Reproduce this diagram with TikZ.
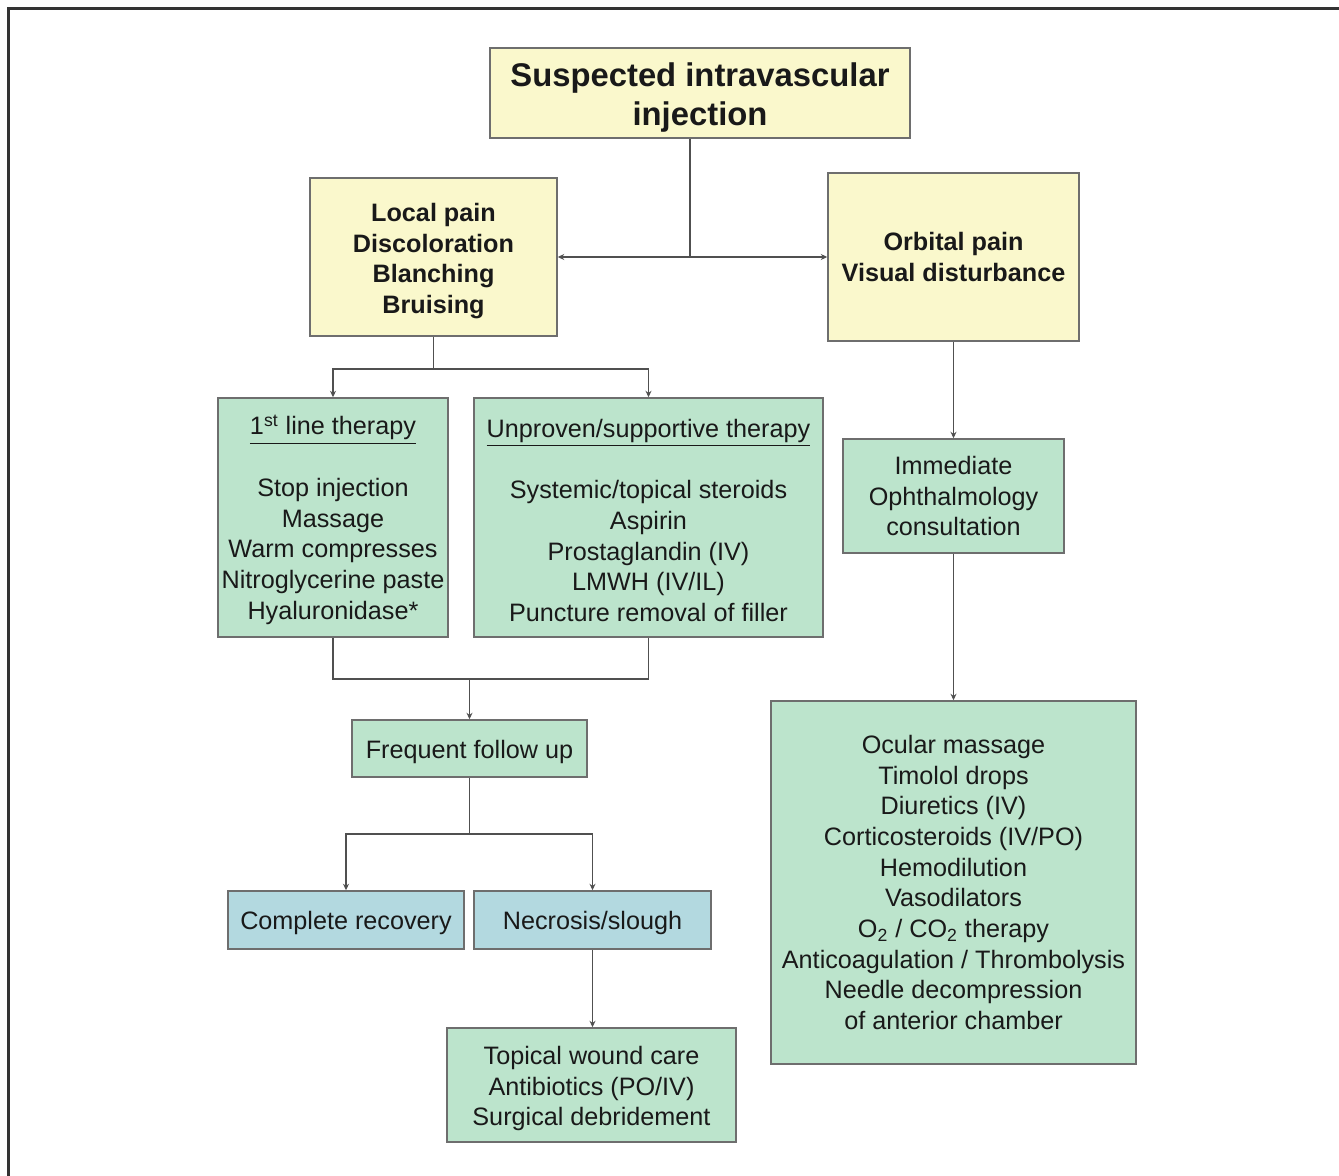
\documentclass[tikz,border=0pt]{standalone}
\usepackage{fontspec}
\setmainfont{Liberation Sans}
\usetikzlibrary{arrows.meta}
\definecolor{byellow}{HTML}{FAF8CC}
\definecolor{bgreen}{HTML}{BCE4CC}
\definecolor{bblue}{HTML}{B3D9E0}
\definecolor{bline}{HTML}{6E6E6E}
\definecolor{cline}{HTML}{505050}
\newcommand{\fstrut}[1]{\rule{0pt}{#1}}
\tikzset{
  box/.style={rectangle, draw=bline, line width=0.8pt, align=center, inner sep=0pt, text=black!90},
  ybox/.style={box, fill=byellow, font=\fontsize{12.6}{15.3}\selectfont\bfseries},
  gbox/.style={box, fill=bgreen, font=\fontsize{12.6}{15.35}\selectfont},
  bbox/.style={box, fill=bblue, font=\fontsize{12.6}{15.35}\selectfont},
  conn/.style={draw=cline, line width=0.7pt},
  arr/.style={conn, -{Stealth[length=3.2pt,width=3pt]}},
}
\begin{document}
\begin{tikzpicture}[x=0.5pt,y=-0.5pt]
\useasboundingbox (0,0) rectangle (1339,1176);
\draw[line width=1.1pt, draw=black!80] (8.5,1176) -- (8.5,8.5) -- (1339,8.5);

\node[box, fill=byellow, font=\fontsize{16.4}{19.5}\selectfont\bfseries,
      minimum width=210pt, minimum height=45pt] (top) at (700,93)
      {\fstrut{16.5pt}Suspected intravascular\\injection};
\node[ybox, minimum width=123.5pt, minimum height=79pt] (ly) at (433.5,257)
      {\fstrut{13.2pt}Local pain\\Discoloration\\Blanching\\Bruising};
\node[ybox, minimum width=125.5pt, minimum height=84pt] (ry) at (953.5,257)
      {Orbital pain\\Visual disturbance};

\node[gbox, minimum width=115pt, minimum height=119.5pt] (g1) at (333,517.5)
      {\fstrut{12.2pt}\underline{1\textsuperscript{st} line therapy}\\[15.35pt]Stop injection\\Massage\\Warm compresses\\Nitroglycerine paste\\Hyaluronidase*};
\node[gbox, minimum width=174.5pt, minimum height=119.5pt] (g2) at (648.5,517.5)
      {\fstrut{12.2pt}\underline{Unproven/supportive therapy}\\[15.35pt]Systemic/topical steroids\\Aspirin\\Prostaglandin (IV)\\LMWH (IV/IL)\\Puncture removal of filler};

\node[gbox, minimum width=117.5pt, minimum height=28.5pt] (ff) at (469.5,748.5)
      {\fstrut{12.2pt}Frequent follow up};
\node[bbox, minimum width=118pt, minimum height=29pt] (cr) at (346,920)
      {\fstrut{12.2pt}Complete recovery};
\node[bbox, minimum width=118.5pt, minimum height=29pt] (ns) at (592.5,920)
      {\fstrut{12.2pt}Necrosis/slough};
\node[gbox, minimum width=144.5pt, minimum height=57pt] (tw) at (591.5,1085)
      {\fstrut{12.8pt}Topical wound care\\Antibiotics (PO/IV)\\Surgical debridement};

\node[gbox, minimum width=110.5pt, minimum height=57pt] (im) at (953.5,496)
      {Immediate\\Ophthalmology\\consultation};
\node[gbox, minimum width=182.5pt, minimum height=181.5pt] (bg) at (953.5,882.5)
      {Ocular massage\\Timolol drops\\Diuretics (IV)\\Corticosteroids (IV/PO)\\Hemodilution\\Vasodilators\\O\textsubscript{2} / CO\textsubscript{2} therapy\\Anticoagulation / Thrombolysis\\Needle decompression\\of anterior chamber};

% connectors
\coordinate (j1) at (690,257);
\draw[conn] (j1 |- top.south) -- (j1);
\draw[arr] (j1) -- (ly.east |- j1);
\draw[arr] (j1) -- (ry.west |- j1);

\coordinate (j2) at (433.5,369);
\draw[conn] (ly.south) -- (j2);
\draw[arr] (j2) -| (g1.north);
\draw[arr] (j2) -| (g2.north);

\coordinate (j3) at (469.5,679);
\draw[conn] (g1.south) |- (j3) -| (g2.south);
\draw[arr] (j3) -- (ff.north);

\coordinate (j4) at (469.5,834);
\draw[conn] (ff.south) -- (j4);
\draw[arr] (j4) -| (cr.north);
\draw[arr] (j4) -| (ns.north);

\draw[arr] (ns.south) -- (ns.south |- tw.north);
\draw[arr] (ry.south) -- (im.north);
\draw[arr] (im.south) -- (bg.north);
\end{tikzpicture}
\end{document}
